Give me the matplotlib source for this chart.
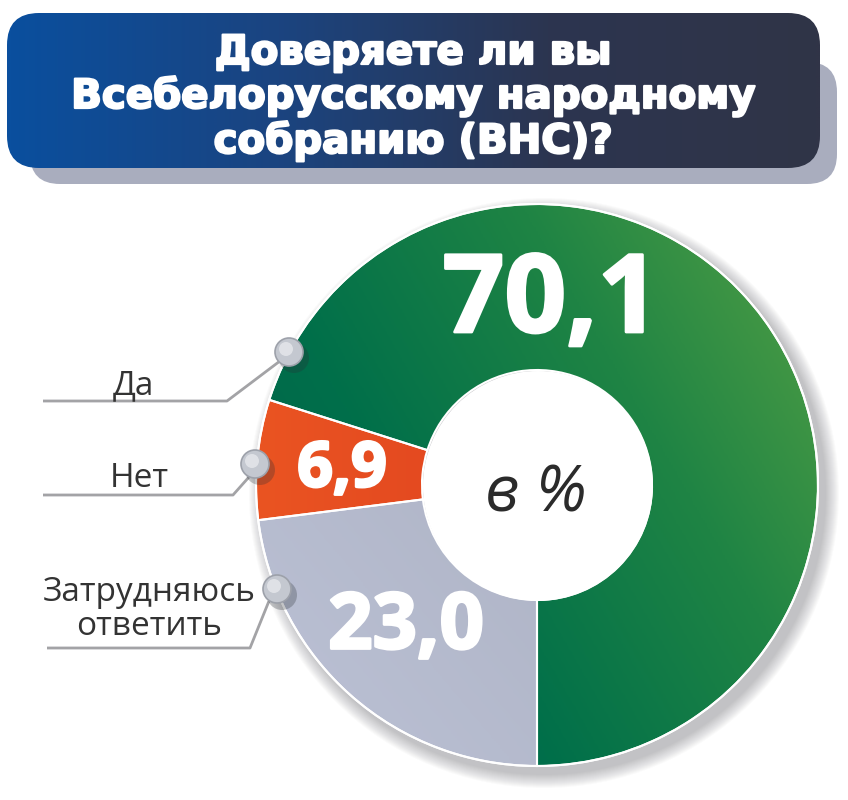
import numpy as np
import matplotlib
matplotlib.use("Agg")
import matplotlib.pyplot as plt
import matplotlib.patheffects as pe
from matplotlib.colors import LinearSegmentedColormap
from matplotlib.patches import FancyBboxPatch, Circle

# data
categories = ["Да", "Нет", "Затрудняюсь\nответить"]
values = [70.1, 6.9, 23.0]
value_labels = ["70,1", "6,9", "23,0"]
title = "Доверяете ли вы\nВсебелорусскому народному\nсобранию (ВНС)?"
center_text = "в %"

W, H = 848, 800


def Y(py):
    # pixel row (from top) -> data y
    return H - py


fig = plt.figure(figsize=(W / 100, H / 100), dpi=100)
ax = fig.add_axes([0, 0, 1, 1])
ax.set_xlim(0, W)
ax.set_ylim(0, H)
ax.axis("off")


def gradient_image(extent, colors, angle_deg, zorder, clip):
    x0, x1, y0, y1 = extent
    xs = np.linspace(0, 1, 300)
    ys = np.linspace(0, 1, 300)
    gx, gy = np.meshgrid(xs * (x1 - x0), ys * (y1 - y0))
    a = np.radians(angle_deg)
    t = gx * np.cos(a) + gy * np.sin(a)
    t = (t - t.min()) / (t.max() - t.min())
    cmap = LinearSegmentedColormap.from_list("g", colors)
    im = ax.imshow(t, extent=extent, origin="lower", cmap=cmap,
                   aspect="auto", zorder=zorder, interpolation="bilinear")
    im.set_clip_path(clip)
    return im


# title box with shadow
shadow = FancyBboxPatch((30, Y(184)), 807, 122, boxstyle="round,pad=0,rounding_size=30",
                        facecolor="#a9adbe", edgecolor="none", zorder=1)
ax.add_patch(shadow)
tbox = FancyBboxPatch((7, Y(168)), 813, 155, boxstyle="round,pad=0,rounding_size=32",
                      facecolor="none", edgecolor="none", zorder=3)
ax.add_patch(tbox)
gradient_image((7, 820, Y(168), Y(13)), ["#0a4f9e", "#1b4480", "#2c3550", "#303447"], 0, 2, tbox)

title_lines = title.split("\n")
baselines = [64, 108, 153]
thick = [pe.withStroke(linewidth=1.6, foreground="white")]
for line, b in zip(title_lines, baselines):
    ax.text(413, Y(b), line, ha="center", va="baseline", color="white",
            fontsize=29, fontweight="bold", family="DejaVu Sans", zorder=4,
            path_effects=thick)

# donut
cx, cy = 537, Y(485)
R, r = 281, 115

# soft shadow under the ring
for i in range(14):
    ax.add_patch(Circle((cx + 7, cy - 8), R + 14 - i, facecolor="#40404a",
                        edgecolor="none", alpha=0.022, zorder=1))

wedges, _ = ax.pie(values, startangle=270, counterclock=True, radius=R, center=(cx, cy),
                   colors=["#1b7a45", "#e0441f", "#adb2c4"],
                   wedgeprops=dict(width=R - r, edgecolor="white", linewidth=1.5))
ax.set_xlim(0, W)
ax.set_ylim(0, H)
ax.set_aspect("equal")

ext = (cx - R, cx + R, cy - R, cy + R)
grads = [
    (["#005f4b", "#006f4a", "#1f8444", "#55a145"], 30),
    (["#ea5422", "#e0431f", "#d43822"], 0),
    (["#bcc2d6", "#afb4c6", "#999ca8"], 40),
]
for w, (cols, ang) in zip(wedges, grads):
    gradient_image(ext, cols, ang, 2, w)
    w.set_facecolor("none")
    w.set_zorder(3)

ax.add_patch(Circle((cx, cy), R, facecolor="none", edgecolor="white", linewidth=1.5, zorder=3))
ax.add_patch(Circle((cx + 1, cy - 1), r, facecolor="white", edgecolor="none", zorder=3))

ax.text(cx - 1, Y(494), center_text, ha="center", va="center", fontsize=46,
        fontstyle="italic", family="Open Sans", color="#2b2b2b", zorder=4)

# values on the ring
val_pos = [(551, 304, 78), (342, 470, 45), (406, 628, 56)]
bold_num = [pe.withStroke(linewidth=2.0, foreground="white")]
for txt, (px, py, fs) in zip(value_labels, val_pos):
    ax.text(px, Y(py), txt, ha="center", va="center", fontsize=fs, fontweight="bold",
            family="Open Sans", color="white", zorder=5, path_effects=bold_num)

# leader lines, balls and category labels
leaders = [
    [(43, 401), (227, 401), (280, 361)],
    [(43, 495), (233, 495), (249, 477)],
    [(47, 648), (250, 648), (269, 601)],
]
balls = [(289, 352), (255, 464), (277, 589)]
label_pos = [(133, 394), (139, 487), (149, 635)]

for pts, (bx, by), cat, (lx, ly) in zip(leaders, balls, categories, label_pos):
    xs = [p[0] for p in pts]
    ys = [Y(p[1]) for p in pts]
    ax.plot(xs, ys, color="#a3a3a6", linewidth=2.0, solid_capstyle="butt", zorder=4)
    ax.add_patch(Circle((bx + 5, Y(by + 6)), 15, facecolor="#2a2f35", alpha=0.28,
                        edgecolor="none", zorder=4))
    ax.add_patch(Circle((bx, Y(by)), 14, facecolor="#c4c8d0", edgecolor="#9da1aa",
                        linewidth=1.2, zorder=5))
    ax.add_patch(Circle((bx - 3, Y(by - 3)), 7, facecolor="#e6e8ec", edgecolor="none",
                        alpha=0.8, zorder=5))
    ax.text(lx, Y(ly), cat, ha="center", va="baseline", fontsize=24, family="Open Sans",
            color="#333333", linespacing=1.05, zorder=5)

fig.savefig("out.png", dpi=100)
